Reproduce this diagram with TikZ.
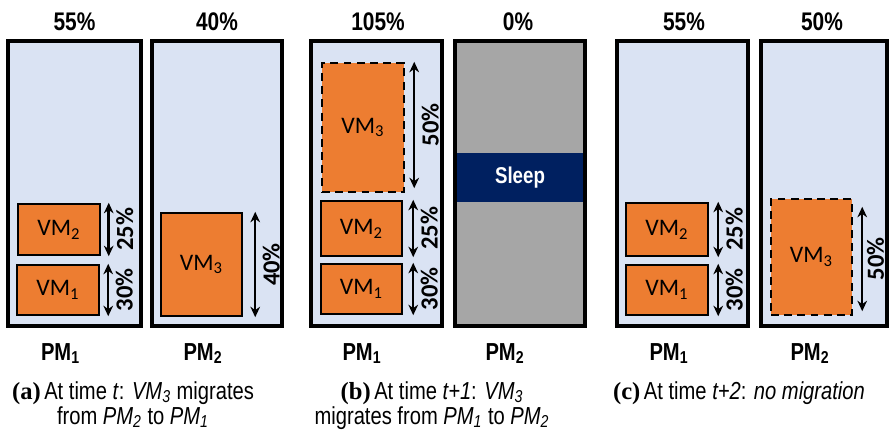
\documentclass[tikz,border=0pt]{standalone}
\usepackage{fontspec}
\setmainfont{Liberation Sans}
\newfontfamily\narrowfont[FakeStretch=0.82]{Liberation Sans}
\newfontfamily\calfont{Carlito}
\newfontfamily\capfont{Liberation Serif}
\usetikzlibrary{arrows.meta}

\definecolor{pmblue}{HTML}{DAE3F3}
\definecolor{vmorange}{HTML}{ED7D31}
\definecolor{offgray}{HTML}{A6A6A6}
\definecolor{sleepblue}{HTML}{002060}

\begin{document}
\begin{tikzpicture}[x=0.02cm, y=-0.02cm,
  sz/.style 2 args={minimum width=#1*0.02cm, minimum height=#2*0.02cm},
  pm/.style={draw, line width=2.3pt, fill=pmblue, inner sep=0pt},
  vm/.style={draw, line width=1.4pt, fill=vmorange, inner sep=0pt, font=\calfont\fontsize{13.5}{15}\selectfont},
  vmnew/.style={vm, dash pattern=on 4.5pt off 3pt},
  dim/.style={{Stealth[length=6pt,width=5.5pt]}-{Stealth[length=6pt,width=5.5pt]}, line width=1.4pt},
  pct/.style={midway, rotate=90, anchor=north, inner sep=3.5pt, font=\calfont\bfseries\fontsize{14}{16}\selectfont},
  load/.style={anchor=base, inner sep=0pt, font=\narrowfont\bfseries\fontsize{14.5}{16}\selectfont},
  pmname/.style={anchor=base, inner sep=0pt, font=\narrowfont\bfseries\fontsize{14}{16}\selectfont},
  subcap/.style={anchor=north, align=center, inner sep=0pt, font=\narrowfont\fontsize{14}{14.2}\selectfont}]
  \useasboundingbox (0,0) rectangle (889,437);

  % (a) time t
  \node[pm, sz={133}{285}] (apm1) at (74.5,183.5) {};
  \node[pm, sz={130}{285}] (apm2) at (217,183.5) {};
  \node[vm, sz={82}{51}] (avm2) at (59,229.5) {VM\textsubscript{2}};
  \node[vm, sz={82}{50}] (avm1) at (58,290) {VM\textsubscript{1}};
  \node[vm, sz={81}{103}] (avm3) at (201.5,264.5) {VM\textsubscript{3}};
  \draw[dim] ([xshift=0.15cm]avm2.north east) -- ([xshift=0.15cm]avm2.south east) node[pct] {25\%};
  \draw[dim] ([xshift=0.16cm]avm1.north east) -- ([xshift=0.16cm]avm1.south east) node[pct] {30\%};
  \draw[dim] ([xshift=0.24cm]avm3.north east) -- ([xshift=0.24cm]avm3.south east) node[pct] {40\%};
  \node[load] (aload1) at (74.5,30) {55\%};
  \node[load] (aload2) at (217,30) {40\%};
  \node[pmname] (aname1) at (60.5,360) {PM\textsubscript{1}};
  \node[pmname] (aname2) at (203,360) {PM\textsubscript{2}};
  \node[subcap] (acap) at (133,381) {{\capfont\bfseries (a)}\hspace{2pt}At time \textit{t}: \textit{VM\textsubscript{3}} migrates\\from \textit{PM\textsubscript{2}} to \textit{PM\textsubscript{1}}};

  % (b) time t+1
  \node[pm, sz={131}{285}] (bpm1) at (376.5,183.5) {};
  \node[pm, sz={130}{285}, fill=offgray] (bpm2) at (520,183.5) {};
  \node[fill=sleepblue, text=white, inner sep=0pt, sz={126}{49}, font=\narrowfont\bfseries\fontsize{13}{15}\selectfont] (bsleep) at (520,177.5) {Sleep};
  \node[vmnew, sz={82}{129}] (bvm3) at (363,127.5) {VM\textsubscript{3}};
  \node[vm, sz={81}{55}] (bvm2) at (361.5,228.5) {VM\textsubscript{2}};
  \node[vm, sz={81}{50}] (bvm1) at (361.5,289) {VM\textsubscript{1}};
  \draw[dim] ([xshift=0.18cm]bvm3.north east) -- ([xshift=0.18cm, yshift=0.1cm]bvm3.south east) node[pct] {50\%};
  \draw[dim] ([xshift=0.2cm]bvm2.north east) -- ([xshift=0.2cm]bvm2.south east) node[pct] {25\%};
  \draw[dim] ([xshift=0.2cm]bvm1.north east) -- ([xshift=0.2cm]bvm1.south east) node[pct] {30\%};
  \node[load] (bload1) at (378,30) {105\%};
  \node[load] (bload2) at (518,30) {0\%};
  \node[pmname] (bname1) at (362,360) {PM\textsubscript{1}};
  \node[pmname] (bname2) at (505,360) {PM\textsubscript{2}};
  \node[subcap] (bcap) at (432,381) {{\capfont\bfseries (b)}\hspace{2pt}At time \textit{t+1}: \textit{VM\textsubscript{3}}\\migrates from \textit{PM\textsubscript{1}} to \textit{PM\textsubscript{2}}};

  % (c) time t+2
  \node[pm, sz={131}{285}] (cpm1) at (682.5,183.5) {};
  \node[pm, sz={126}{285}] (cpm2) at (824,183.5) {};
  \node[vm, sz={82}{53}] (cvm2) at (667,229.5) {VM\textsubscript{2}};
  \node[vm, sz={82}{50}] (cvm1) at (667,290) {VM\textsubscript{1}};
  \node[vmnew, sz={81}{116}] (cvm3) at (811.5,257) {VM\textsubscript{3}};
  \draw[dim] ([xshift=0.18cm]cvm2.north east) -- ([xshift=0.18cm]cvm2.south east) node[pct] {25\%};
  \draw[dim] ([xshift=0.18cm]cvm1.north east) -- ([xshift=0.18cm]cvm1.south east) node[pct] {30\%};
  \draw[dim] ([xshift=0.18cm, yshift=-0.18cm]cvm3.north east) -- ([xshift=0.18cm, yshift=0.1cm]cvm3.south east) node[pct, inner sep=2pt] {50\%};
  \node[load] (cload1) at (684,30) {55\%};
  \node[load] (cload2) at (822,30) {50\%};
  \node[pmname] (cname1) at (669,360) {PM\textsubscript{1}};
  \node[pmname] (cname2) at (810,360) {PM\textsubscript{2}};
  \node[subcap] (ccap) at (739,381) {{\capfont\bfseries (c)}\hspace{2pt}At time \textit{t+2}: \textit{no migration}};
\end{tikzpicture}
\end{document}
